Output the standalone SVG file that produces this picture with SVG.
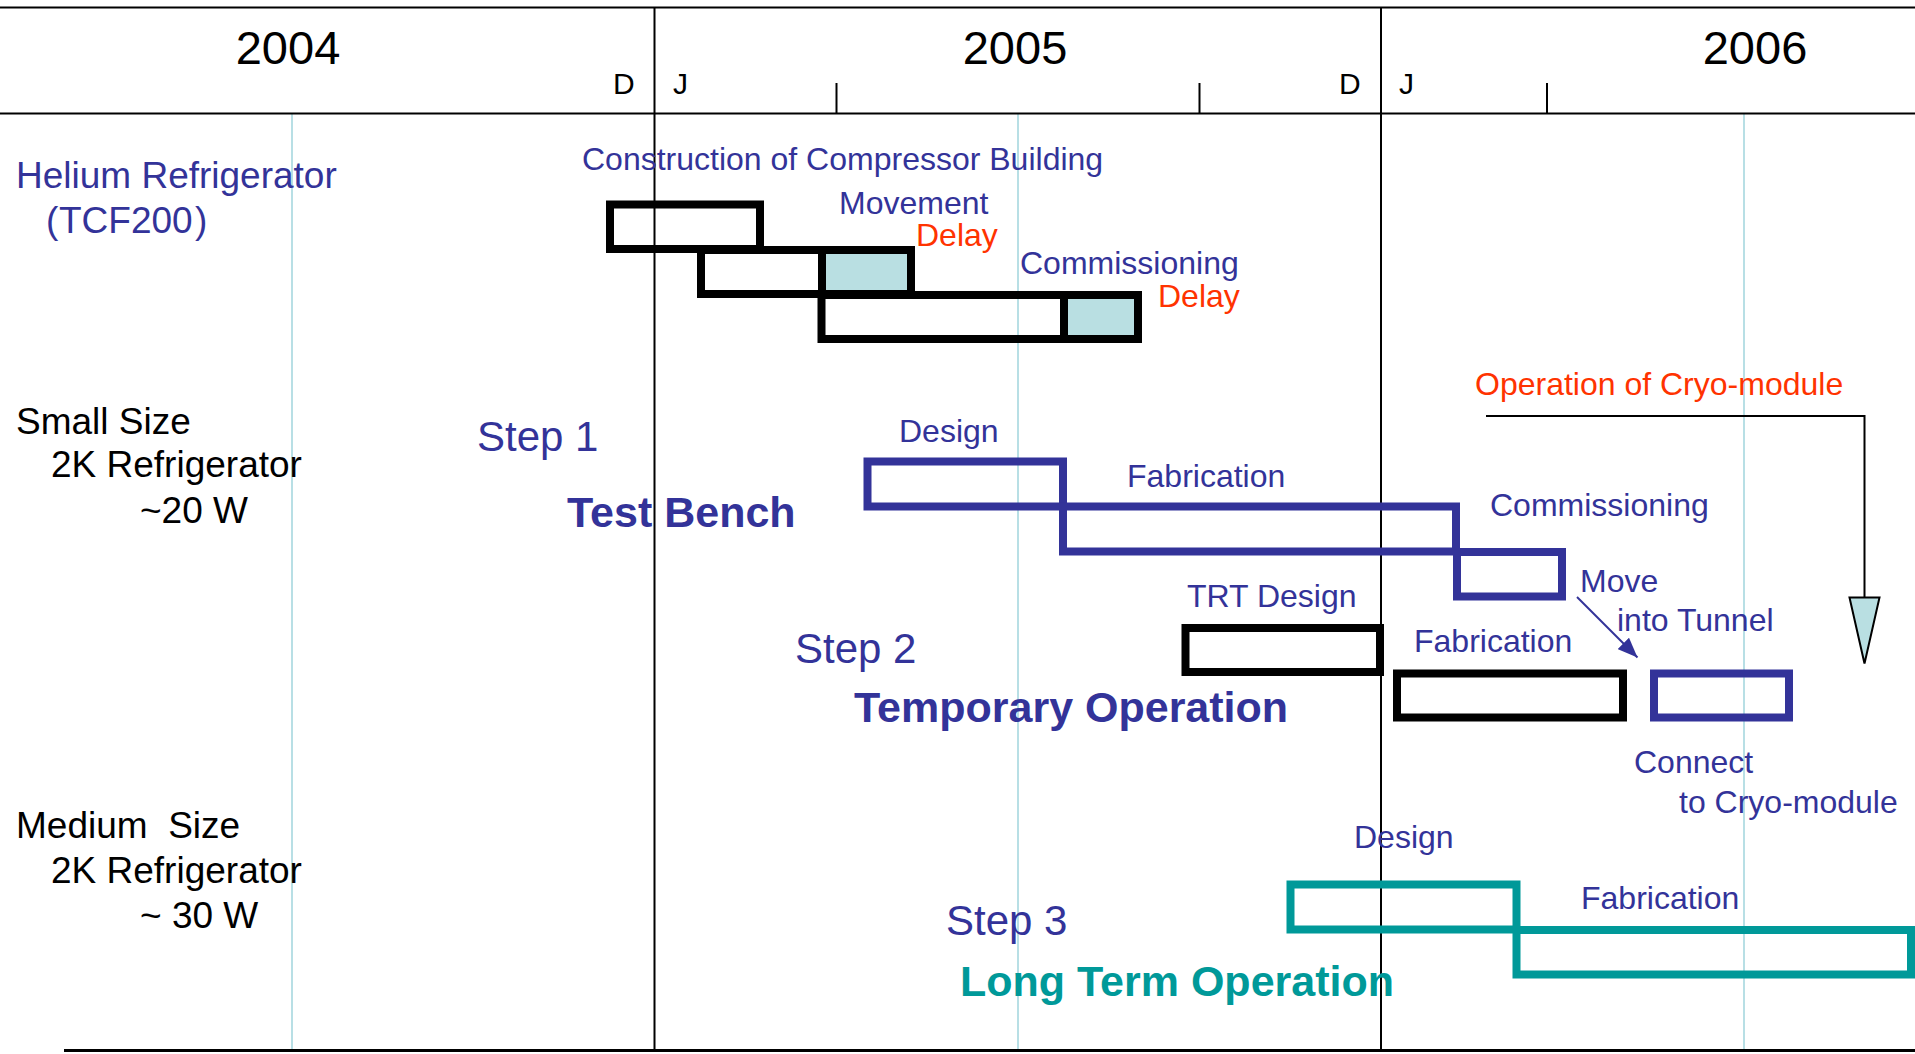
<svg xmlns="http://www.w3.org/2000/svg" width="1915" height="1054" viewBox="0 0 1915 1054">
  <defs>
    <style>
      text { font-family: "Liberation Sans", Arial, sans-serif; }
      .yr { font-size: 47px; fill: #000; text-anchor: middle; }
      .mo { font-size: 30px; fill: #000; }
      .cat { font-size: 37px; fill: #000; white-space: pre; }
      .catb { font-size: 37px; fill: #333399; }
      .lbl { font-size: 32px; fill: #333399; }
      .red { font-size: 32px; fill: #ff3300; }
      .step { font-size: 42px; fill: #333399; }
      .ttl { font-size: 43px; font-weight: bold; fill: #333399; }
      .ttlt { font-size: 43px; font-weight: bold; fill: #009999; }
      .rule { stroke: #000; stroke-width: 2; fill: none; }
      .grid { stroke: #b8dfe5; stroke-width: 2; fill: none; }
      .bk { fill: none; stroke: #000; stroke-width: 8; }
      .bl { fill: none; stroke: #333399; stroke-width: 8; }
      .tl { fill: none; stroke: #009999; stroke-width: 8; }
      .delay { fill: #b9dfe2; stroke: none; }
    </style>
    <marker id="head" viewBox="0 0 20 16" refX="20" refY="8" markerWidth="20" markerHeight="16" markerUnits="userSpaceOnUse" orient="auto">
      <path d="M0,0 L20,8 L0,16 z" fill="#333399"/>
    </marker>
  </defs>

  <rect x="0" y="0" width="1915" height="1054" fill="#fff"/>

  <!-- timeline frame -->
  <g id="timeline">
    <line class="grid" x1="292" y1="114" x2="292" y2="1050"/>
    <line class="grid" x1="1018" y1="114" x2="1018" y2="1050"/>
    <line class="grid" x1="1744" y1="114" x2="1744" y2="1050"/>
    <line class="rule" x1="0" y1="7.5" x2="1915" y2="7.5"/>
    <line class="rule" x1="0" y1="113.5" x2="1915" y2="113.5"/>
    <line x1="64" y1="1050.5" x2="1915" y2="1050.5" stroke="#000" stroke-width="3"/>
    <line class="rule" x1="654.5" y1="7" x2="654.5" y2="1050"/>
    <line class="rule" x1="1381" y1="7" x2="1381" y2="1050"/>
    <line class="rule" x1="836.5" y1="83" x2="836.5" y2="113"/>
    <line class="rule" x1="1199.5" y1="83" x2="1199.5" y2="113"/>
    <line class="rule" x1="1547" y1="83" x2="1547" y2="113"/>
    <text class="yr" x="288" y="64">2004</text>
    <text class="yr" x="1015" y="64">2005</text>
    <text class="yr" x="1755" y="64">2006</text>
    <text class="mo" x="613" y="94">D</text>
    <text class="mo" x="673" y="94">J</text>
    <text class="mo" x="1339" y="94">D</text>
    <text class="mo" x="1399" y="94">J</text>
  </g>

  <!-- row headings -->
  <g id="row-helium">
    <text class="catb" x="16" y="188">Helium Refrigerator</text>
    <text class="catb" y="233"><tspan x="46">(</tspan><tspan x="59">TCF200</tspan><tspan x="195">)</tspan></text>
  </g>
  <g id="row-small">
    <text class="cat" x="16" y="434">Small Size</text>
    <text class="cat" x="51" y="477">2K Refrigerator</text>
    <text class="cat" x="140" y="523">~20 W</text>
  </g>
  <g id="row-medium">
    <text class="cat" x="16" y="838">Medium  Size</text>
    <text class="cat" x="51" y="883">2K Refrigerator</text>
    <text class="cat" x="140" y="928">~ 30 W</text>
  </g>

  <!-- helium refrigerator tasks -->
  <g id="task-construction">
    <rect class="bk" x="610" y="204.5" width="150" height="44.5"/>
    <text class="lbl" x="582" y="170">Construction of Compressor Building</text>
  </g>
  <g id="task-movement">
    <rect class="delay" x="822" y="250" width="89" height="44"/>
    <rect class="bk" x="701" y="250" width="210" height="44"/>
    <line x1="822" y1="246" x2="822" y2="298" stroke="#000" stroke-width="8"/>
    <text class="lbl" x="839" y="214">Movement</text>
    <text class="red" x="916" y="246">Delay</text>
  </g>
  <g id="task-commissioning">
    <rect class="delay" x="1064" y="295" width="74" height="44"/>
    <rect class="bk" x="821.5" y="295" width="316.5" height="44"/>
    <line x1="1064" y1="291" x2="1064" y2="343" stroke="#000" stroke-width="8"/>
    <text class="lbl" x="1020" y="274">Commissioning</text>
    <text class="red" x="1158" y="307">Delay</text>
  </g>

  <!-- step 1 -->
  <g id="step1">
    <text class="step" x="477" y="451">Step 1</text>
    <text class="ttl" x="567" y="527">Test Bench</text>
  </g>
  <g id="s1-design">
    <rect class="bl" x="867.5" y="461.5" width="195.5" height="45"/>
    <text class="lbl" x="899" y="442">Design</text>
  </g>
  <g id="s1-fabrication">
    <rect class="bl" x="1063" y="506.5" width="393" height="45"/>
    <text class="lbl" x="1127" y="487">Fabrication</text>
  </g>
  <g id="s1-commissioning">
    <rect class="bl" x="1457" y="552" width="105" height="44.5"/>
    <text class="lbl" x="1490" y="516">Commissioning</text>
  </g>

  <!-- step 2 -->
  <g id="step2">
    <text class="step" x="795" y="663">Step 2</text>
    <text class="ttl" x="854" y="722">Temporary Operation</text>
  </g>
  <g id="s2-trt-design">
    <rect class="bk" x="1185.5" y="628" width="194.5" height="44"/>
    <text class="lbl" x="1187" y="607">TRT Design</text>
  </g>
  <g id="s2-fabrication">
    <rect class="bk" x="1397" y="673.5" width="226" height="44"/>
    <text class="lbl" x="1414" y="652">Fabrication</text>
  </g>
  <g id="s2-move">
    <text class="lbl" x="1580" y="592">Move</text>
    <text class="lbl" x="1617" y="630.5">into Tunnel</text>
  </g>
  <g id="s2-connect">
    <rect class="bl" x="1654" y="673.5" width="135" height="44"/>
    <text class="lbl" x="1634" y="773">Connect</text>
    <text class="lbl" x="1679" y="812.5">to Cryo-module</text>
  </g>
  <g id="cryo-operation">
    <text class="red" x="1475" y="395">Operation of Cryo-module</text>
  </g>

  <!-- step 3 -->
  <g id="step3">
    <text class="step" x="946" y="935">Step 3</text>
    <text class="ttlt" x="960" y="996">Long Term Operation</text>
  </g>
  <g id="s3-design">
    <rect class="tl" x="1290.5" y="884.5" width="226" height="45"/>
    <text class="lbl" x="1354" y="848">Design</text>
  </g>
  <g id="s3-fabrication">
    <rect class="tl" x="1516.5" y="930" width="394.5" height="44.5"/>
    <text class="lbl" x="1581" y="909">Fabrication</text>
  </g>

  <!-- connectors -->
  <g id="connectors">
    <line x1="1577" y1="597" x2="1637.5" y2="657.5" stroke="#333399" stroke-width="2" marker-end="url(#head)"/>
    <polyline points="1486,416 1864.5,416 1864.5,597.5" fill="none" stroke="#000" stroke-width="2"/>
    <polygon points="1849.5,597.5 1879.5,597.5 1864.5,663.5" fill="#b9dfe2" stroke="#000" stroke-width="2" stroke-linejoin="miter"/>
  </g>
</svg>
